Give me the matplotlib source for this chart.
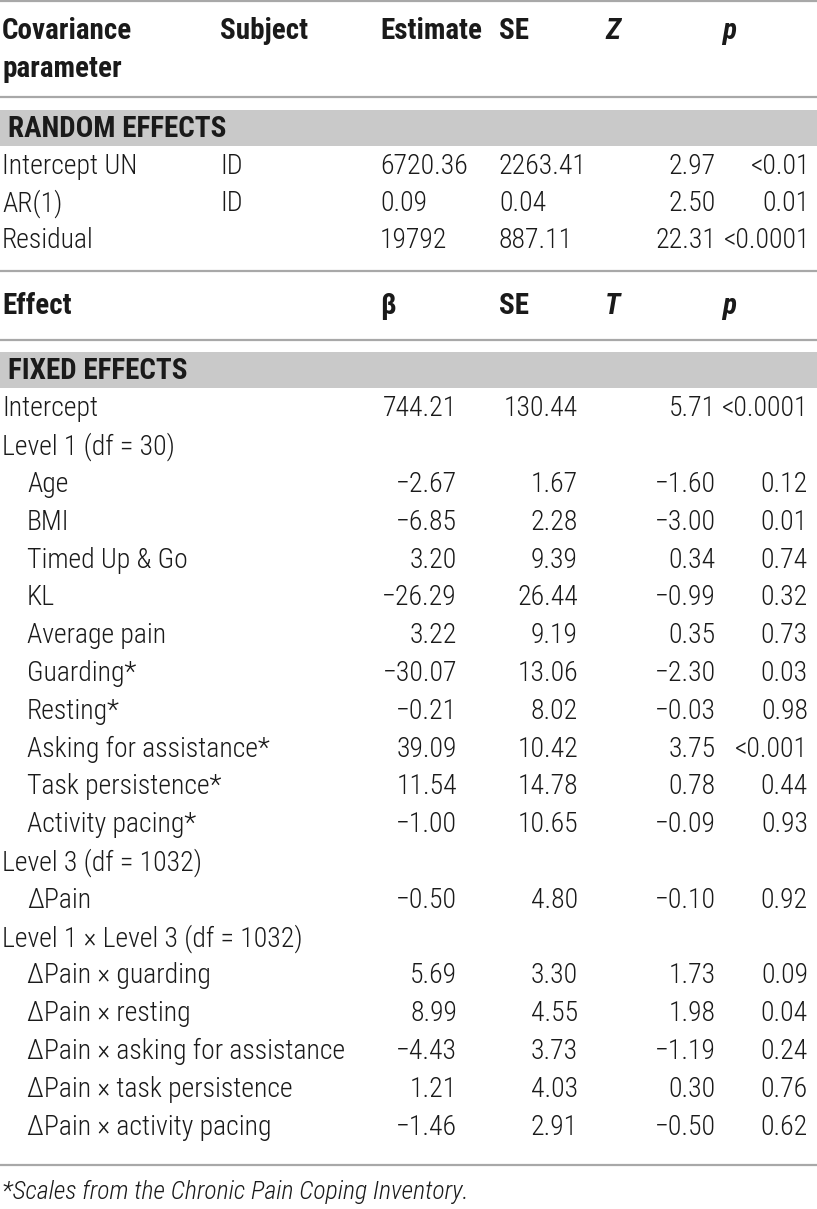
import matplotlib
matplotlib.use("Agg")
import matplotlib.pyplot as plt

# condensed face first, fall back to the installed ones
plt.rcParams['font.family'] = ['Roboto Condensed', 'Liberation Sans Narrow', 'Roboto', 'DejaVu Sans']

W, H = 817, 1209

# random effects part
cov_header = ["Covariance\nparameter", "Subject", "Estimate", "SE", "Z", "p"]
rand_names = ["Intercept UN", "AR(1)", "Residual"]
rand_subject = ["ID", "ID", ""]
rand_est = ["6720.36", "0.09", "19792"]
rand_se = ["2263.41", "0.04", "887.11"]
rand_z = ["2.97", "2.50", "22.31"]
rand_p = ["<0.01", "0.01", "<0.0001"]

# fixed effects part
fix_header = ["Effect", "β", "SE", "T", "p"]
fix_names = ["Intercept", "Level 1 (df = 30)", "Age", "BMI", "Timed Up & Go", "KL",
             "Average pain", "Guarding*", "Resting*", "Asking for assistance*",
             "Task persistence*", "Activity pacing*", "Level 3 (df = 1032)", "ΔPain",
             "Level 1 × Level 3 (df = 1032)", "ΔPain × guarding", "ΔPain × resting",
             "ΔPain × asking for assistance", "ΔPain × task persistence",
             "ΔPain × activity pacing"]
fix_indent = [0, 0, 1, 1, 1, 1, 1, 1, 1, 1, 1, 1, 0, 1, 0, 1, 1, 1, 1, 1]
fix_beta = ["744.21", "", "−2.67", "−6.85", "3.20", "−26.29", "3.22", "−30.07", "−0.21",
            "39.09", "11.54", "−1.00", "", "−0.50", "", "5.69", "8.99", "−4.43", "1.21", "−1.46"]
fix_se = ["130.44", "", "1.67", "2.28", "9.39", "26.44", "9.19", "13.06", "8.02",
          "10.42", "14.78", "10.65", "", "4.80", "", "3.30", "4.55", "3.73", "4.03", "2.91"]
fix_t = ["5.71", "", "−1.60", "−3.00", "0.34", "−0.99", "0.35", "−2.30", "−0.03",
         "3.75", "0.78", "−0.09", "", "−0.10", "", "1.73", "1.98", "−1.19", "0.30", "−0.50"]
fix_p = ["<0.0001", "", "0.12", "0.01", "0.74", "0.32", "0.73", "0.03", "0.98",
         "<0.001", "0.44", "0.93", "", "0.92", "", "0.09", "0.04", "0.24", "0.76", "0.62"]

footnote = "*Scales from the Chronic Pain Coping Inventory."

fig = plt.figure(figsize=(W / 100, H / 100), dpi=100)
ax = fig.add_axes([0, 0, 1, 1])
ax.set_xlim(0, W)
ax.set_ylim(H, 0)
ax.axis('off')

fs = 20
fs_head = 21
line_col = "#a8a8a8"
band_col = "#c9c9c9"
txt_col = "#1a1a1a"


def hline(y):
    ax.plot([0, W], [y, y], color=line_col, lw=1.6, solid_capstyle='butt')


def band(y0, y1, label):
    ax.fill_between([0, W], y0, y1, color=band_col, lw=0)
    ax.text(8, (y0 + y1) / 2 + 1, label, fontsize=fs_head, fontweight='bold',
            va='center', ha='left', color=txt_col)


def t(x, y, s, ha='left', weight='light', size=fs, **kw):
    ax.text(x, y, s, fontsize=size, va='center', ha=ha, color=txt_col,
            fontweight=weight, **kw)


def th(x, y, s, **kw):
    t(x, y, s, weight='bold', size=fs_head, **kw)


# top header
hline(1)
th(2, 31, "Covariance")
th(2, 69, "parameter")
th(220, 31, cov_header[1])
th(380, 31, cov_header[2])
th(499, 31, cov_header[3])
th(605, 31, cov_header[4], fontstyle='italic')
th(722, 31, cov_header[5], fontstyle='italic')
hline(97)

band(110, 146, "RANDOM EFFECTS")
y = 166
for i in range(len(rand_names)):
    t(2, y, rand_names[i])
    t(220, y, rand_subject[i])
    t(380, y, rand_est[i])
    t(499, y, rand_se[i])
    t(716, y, rand_z[i], ha='right')
    t(810, y, rand_p[i], ha='right')
    y += 37.5

hline(271)
th(2, 306, fix_header[0])
th(380, 306, fix_header[1])
th(499, 306, fix_header[2])
th(605, 306, fix_header[3], fontstyle='italic')
th(722, 306, fix_header[4], fontstyle='italic')
hline(340)

band(352, 388, "FIXED EFFECTS")
y = 409
for i in range(len(fix_names)):
    t(2 + 25 * fix_indent[i], y, fix_names[i])
    t(457, y, fix_beta[i], ha='right')
    t(578, y, fix_se[i], ha='right')
    t(716, y, fix_t[i], ha='right')
    t(808, y, fix_p[i], ha='right')
    y += 37.8

hline(1165)
t(2, 1192, footnote, size=18.5, fontstyle='italic')

fig.savefig("out.png", dpi=100, facecolor='white')
